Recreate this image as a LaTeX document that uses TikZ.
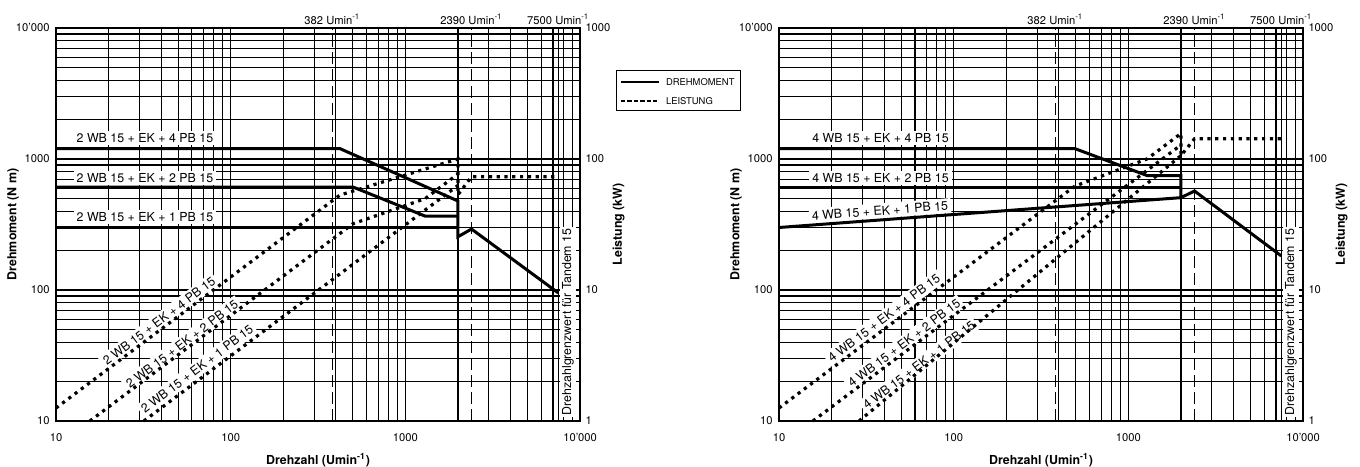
\documentclass[tikz,border=0pt]{standalone}
\usepackage{fontspec}
\setmainfont{TeX Gyre Heros}
\usepackage{tikz}

\tikzset{
  grd/.style={line width=0.55pt},
  frm/.style={line width=0.7pt},
  trq/.style={line width=1.5pt},
  pwr/.style={line width=1.6pt, dash pattern=on 1.6pt off 2.3pt},
  lim/.style={line width=0.85pt, dash pattern=on 6pt off 2.5pt},
  lab/.style={font=\fontsize{6.2}{7}\selectfont, fill=white, inner sep=1.4pt},
  tck/.style={font=\fontsize{5.6}{6.5}\selectfont, inner sep=1pt},
  ttl/.style={font=\fontsize{6.2}{7}\selectfont\bfseries, inner sep=1pt},
  lgd/.style={font=\fontsize{4.7}{5.5}\selectfont, inner sep=1pt},
  chart/.style={shift={#1}, x=87.35pt, y=65.5pt}
}

\newcommand\chartbase[1]{
  \foreach \e in {0,1,2}{
    \foreach \k in {1,...,9}{
      \draw[grd] ({\e+log10(\k)},0) -- ({\e+log10(\k)},3);
      \draw[grd] (0,{\e+log10(\k)}) -- (3,{\e+log10(\k)});
    }
  }
  \draw[grd] ({lx(7500)},0) -- ({lx(7500)},3);
  \draw[frm] (0,0) rectangle (3,3);
  \foreach \lbl [count=\i from 0] in {10,100,1000,10'000}{
    \node[tck, anchor=north, yshift=-5pt] (#1x\i) at (\i,0) {\lbl};
    \node[tck, anchor=east, xshift=-2pt] (#1y\i) at (0,\i) {\lbl};
  }
  \foreach \lbl [count=\i from 0] in {1,10,100,1000}
    \node[tck, anchor=west, xshift=1.5pt] (#1p\i) at (3,\i) {\lbl};
  \foreach \n in {382,2390}
    \draw[lim] ({lx(\n)},0) -- ({lx(\n)},3);
  \foreach \n in {382,2390,7500}
    \node[tck, anchor=south, yshift=0.5pt] (#1n\n) at ({lx(\n)},3) {\n\ Umin\textsuperscript{-1}};
  \node[lab, rotate=90, inner sep=1pt] (#1g) at (2.93,0.756) {Drehzahlgrenzwert für Tandem 15};
  \node[ttl, rotate=90] (#1tm) at (-0.245,1.5) {Drehmoment (N m)};
  \node[ttl, rotate=90] (#1tp) at (3.22,1.5) {Leistung (kW)};
  \node[ttl] (#1tn) at (1.5,-0.298) {Drehzahl (Umin\textsuperscript{-1})};
}

\begin{document}
\begin{tikzpicture}[declare function={lx(\v)=log10(\v)-1; pw(\t,\v)=log10(\t)+log10(\v)-3.98;}]
  \useasboundingbox (0,0) rectangle (680pt,233pt);

  \begin{scope}[chart={(28pt,22.5pt)}]
    \chartbase{l}
    \node[lab] (lt4) at (0.509,2.160) {2 WB 15 + EK + 4 PB 15};
    \node[lab] (lt2) at (0.509,1.855) {2 WB 15 + EK + 2 PB 15};
    \node[lab] (lt1) at (0.509,1.557) {2 WB 15 + EK + 1 PB 15};
    \node[lab, rotate=36.87] (lp4) at (0.590,0.763) {2 WB 15 + EK + 4 PB 15};
    \node[lab, rotate=36.87] (lp2) at (0.721,0.588) {2 WB 15 + EK + 2 PB 15};
    \node[lab, rotate=36.87] (lp1) at (0.807,0.397) {2 WB 15 + EK + 1 PB 15};
    \draw[trq] (0,{lx(1200)}) -- ({lx(422)},{lx(1200)}) -- ({lx(2000)},{lx(478)})
      -- ({lx(2000)},{lx(255)}) -- ({lx(2390)},{lx(292)}) -- ({lx(7500)},{lx(95)});
    \draw[trq] (0,{lx(611)}) -- ({lx(501)},{lx(611)}) -- ({lx(1294)},{lx(367)}) -- ({lx(2000)},{lx(367)});
    \draw[trq] (0,{lx(300)}) -- ({lx(2000)},{lx(300)});
    \draw[pwr] (0,{pw(1200,10)}) -- ({lx(422)},{pw(1200,422)}) -- ({lx(2000)},{pw(478,2000)})
      -- ({lx(2000)},{pw(255,2000)}) -- ({lx(2390)},{pw(292,2390)}) -- ({lx(7500)},{pw(292,2390)});
    \draw[pwr] ({lx(15.63)},0) -- ({lx(501)},{pw(611,501)}) -- ({lx(1294)},{pw(367,1294)}) -- ({lx(2000)},{pw(367,2000)});
    \draw[pwr] ({lx(31.83)},0) -- ({lx(2000)},{pw(300,2000)});
  \end{scope}

  \begin{scope}[chart={(389.5pt,22.5pt)}]
    \chartbase{r}
    \node[lab] (rt4) at (0.581,2.160) {4 WB 15 + EK + 4 PB 15};
    \node[lab] (rt2) at (0.581,1.855) {4 WB 15 + EK + 2 PB 15};
    \node[lab, rotate=4.25] (rt1) at (0.578,1.605) {4 WB 15 + EK + 1 PB 15};
    \node[lab, rotate=36.87] (rp4) at (0.601,0.786) {4 WB 15 + EK + 4 PB 15};
    \node[lab, rotate=36.87] (rp2) at (0.716,0.595) {4 WB 15 + EK + 2 PB 15};
    \node[lab, rotate=36.87] (rp1) at (0.801,0.427) {4 WB 15 + EK + 1 PB 15};
    \draw[trq] (0,{lx(1200)}) -- ({lx(494)},{lx(1200)}) -- ({lx(1277)},{lx(748)})
      -- ({lx(2000)},{lx(748)}) -- ({lx(2000)},{lx(507)});
    \draw[trq] (0,{lx(611)}) -- ({lx(2000)},{lx(611)});
    \draw[trq] (0,{lx(300)}) -- ({lx(2000)},{lx(507)}) -- ({lx(2390)},{lx(570)}) -- ({lx(7500)},{lx(182)});
    \draw[pwr] (0,{pw(1200,10)}) -- ({lx(494)},{pw(1200,494)}) -- ({lx(1277)},{pw(748,1277)})
      -- ({lx(2000)},{pw(748,2000)}) -- ({lx(2000)},{pw(507,2000)}) -- ({lx(2390)},{pw(570,2390)})
      -- ({lx(7500)},{pw(570,2390)});
    \draw[pwr] ({lx(15.63)},0) -- ({lx(2000)},{pw(611,2000)});
    \draw[pwr] (0.458,0) -- ({lx(2000)},{pw(507,2000)});
  \end{scope}

  \node[draw, line width=0.5pt, minimum width=62pt, minimum height=20pt, inner sep=0pt] (leg) at (339pt,187.5pt) {};
  \coordinate (legm) at (310.5pt,192pt);
  \coordinate (legl) at (310.5pt,182.5pt);
  \draw[line width=1.1pt] (legm) -- ++(19pt,0) node[lgd, anchor=west, xshift=2pt] (legmt) {DREHMOMENT};
  \draw[line width=1.1pt, dash pattern=on 2.2pt off 1pt] (legl) -- ++(19pt,0) node[lgd, anchor=west, xshift=2pt] (leglt) {LEISTUNG};
\end{tikzpicture}
\end{document}
